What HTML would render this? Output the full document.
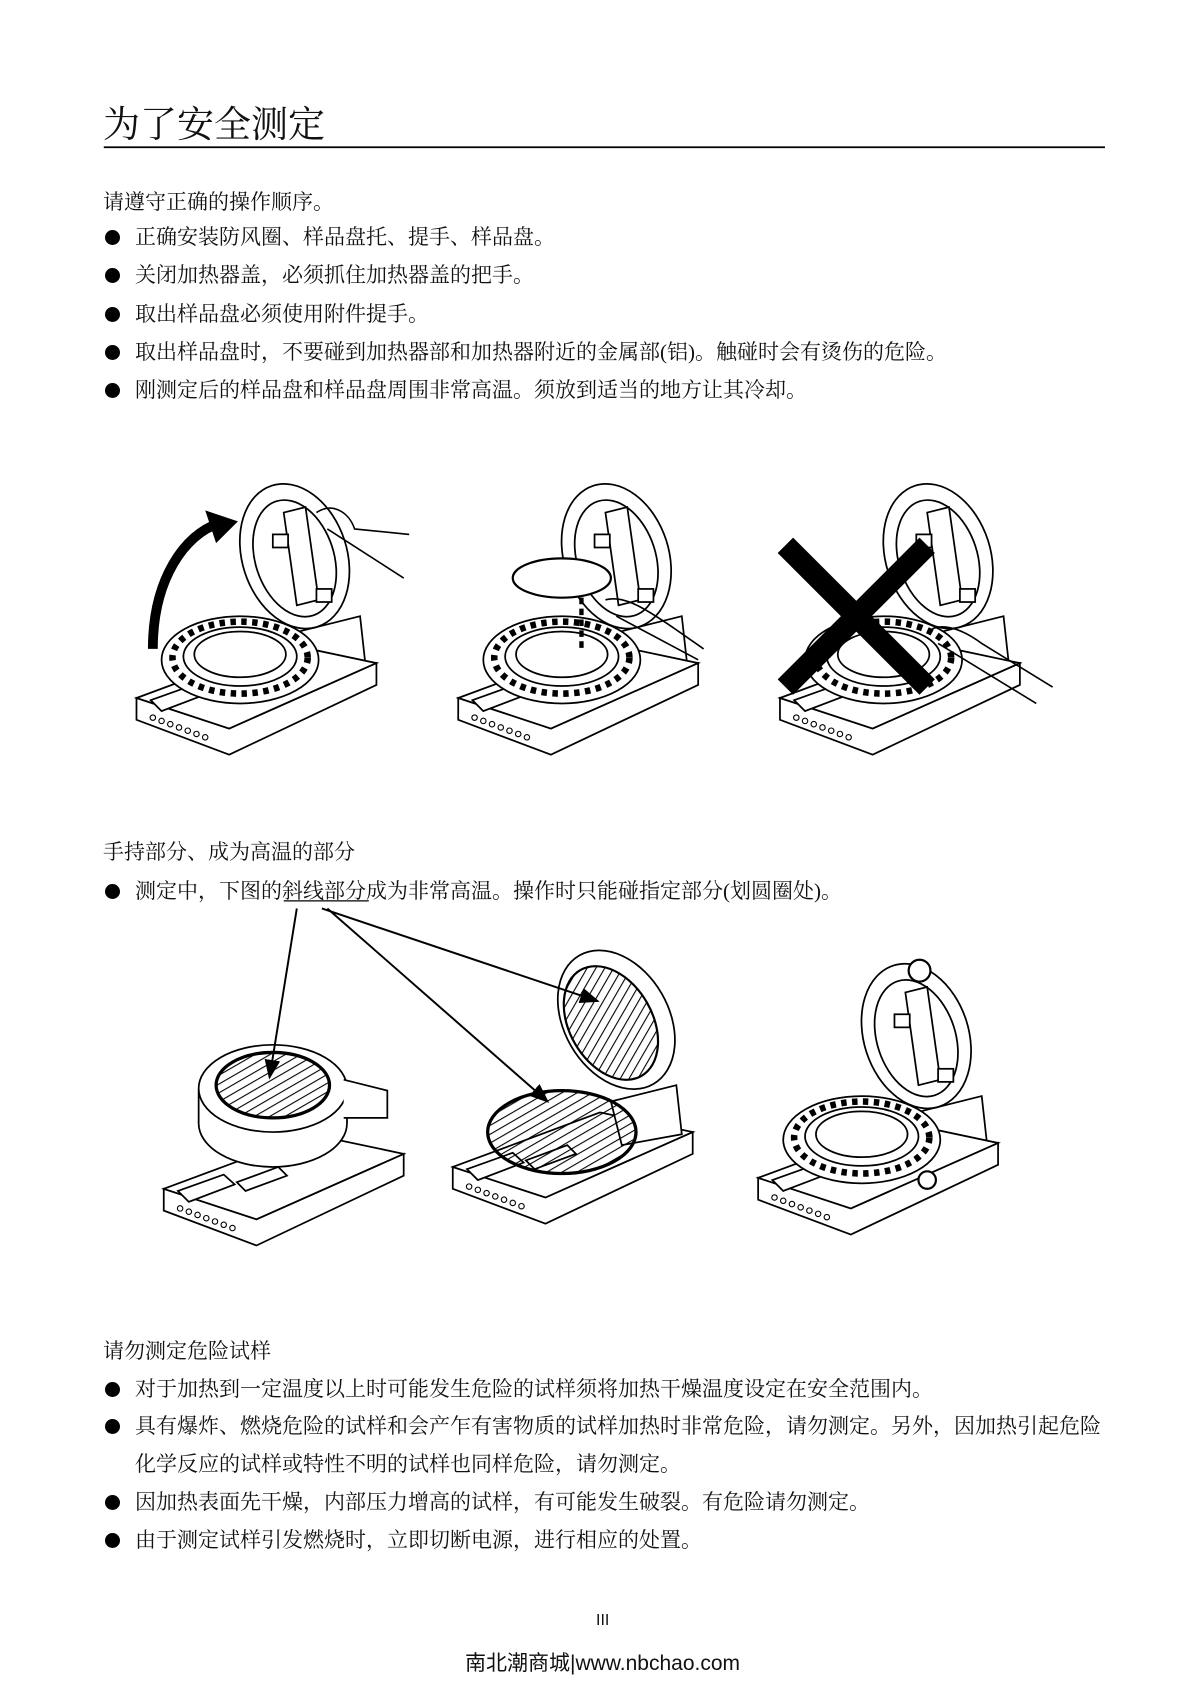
<!DOCTYPE html>
<html><head><meta charset="utf-8"><style>
body{margin:0;background:#fff}
#p{position:relative;width:1200px;height:1697px;overflow:hidden;background:#fff;font-family:"Liberation Serif","Noto Serif CJK SC","Noto Sans CJK SC",serif;color:#111}
.t{position:absolute;white-space:nowrap;font-size:21px;line-height:24px}
.b{position:absolute;width:15px;height:15px;border-radius:50%;background:#000}
svg{position:absolute;left:0;top:0}
</style></head><body><div id="p">
<svg width="1200" height="1697" viewBox="0 0 1100 1556">
<defs>
<pattern id="h" width="7" height="7" patternUnits="userSpaceOnUse" patternTransform="rotate(60)"><line x1="0" y1="0" x2="0" y2="7" stroke="#000" stroke-width="2"/></pattern>
<marker id="ar" markerWidth="10" markerHeight="10" refX="9" refY="5" orient="auto"><path d="M0,1 L10,5 L0,9 z" fill="#000"/></marker>
<g id="base" fill="#fff" stroke="#000" stroke-width="1.6">
<path d="M5,210 L5,230 L90,262 L225,198 L225,178 L90,238 Z"/>
<path d="M5,210 L140,160 L225,178 L90,238 Z"/>
<path d="M18,212 L60,197 L70,206 L28,222 Z"/>
<path d="M72,204 L110,190 L118,198 L80,212 Z"/>
<g stroke-width="1"><circle cx="20" cy="228" r="2.5"/><circle cx="28" cy="231" r="2.5"/><circle cx="36" cy="234" r="2.5"/><circle cx="44" cy="237" r="2.5"/><circle cx="52" cy="240" r="2.5"/><circle cx="60" cy="243" r="2.5"/><circle cx="68" cy="246" r="2.5"/></g>
</g>
<g id="ring" fill="#fff" stroke="#000" stroke-width="1.6">
<ellipse cx="100" cy="175" rx="72" ry="40"/>
<ellipse cx="100" cy="173" rx="62" ry="33" stroke-width="6" stroke-dasharray="5 5" fill="none"/>
<ellipse cx="100" cy="172" rx="52" ry="27"/>
<ellipse cx="100" cy="170" rx="42" ry="21"/>
</g>
<g id="lid" fill="#fff" stroke="#000" stroke-width="1.6">
<path d="M150,150 L210,135 L215,180 L160,190 Z"/>
<ellipse cx="150" cy="80" rx="48" ry="68" transform="rotate(-18 150 80)"/>
<ellipse cx="150" cy="82" rx="36" ry="55" transform="rotate(-18 150 82)"/>
<path d="M140,40 L160,35 L172,120 L152,125 Z"/>
<rect x="130" y="60" width="14" height="12"/><rect x="170" y="110" width="14" height="12"/>
</g>
</defs>
<line x1="95" y1="135" x2="1013" y2="135" stroke="#000" stroke-width="1.6"/>
<g transform="translate(120,430)"><use href="#lid"/><use href="#base"/><use href="#ring"/>
<path d="M170,40 C185,30 200,40 205,55 L255,60 M180,55 L250,100" fill="none" stroke="#000" stroke-width="1.5"/>
<path d="M20,165 C20,100 50,60 80,50" fill="none" stroke="#000" stroke-width="9"/><path d="M68,38 L98,48 L78,68 Z" fill="#000"/></g>
<g transform="translate(415,430)"><use href="#lid"/><use href="#base"/><use href="#ring"/>
<ellipse cx="100" cy="100" rx="45" ry="18" fill="#fff" stroke="#000" stroke-width="2"/>
<path d="M118,118 L118,165" stroke="#000" stroke-width="4" stroke-dasharray="6 4"/>
<path d="M140,120 C160,115 180,130 230,165 M150,135 L225,175" fill="none" stroke="#000" stroke-width="1.5"/></g>
<g transform="translate(710,430)"><use href="#lid"/><use href="#base"/><use href="#ring"/>
<path d="M140,150 C150,140 170,145 190,160 L255,200 M150,160 L240,215" fill="none" stroke="#000" stroke-width="1.5"/>
<path d="M10,70 L140,200 M140,70 L10,200" stroke="#000" stroke-width="20"/></g>
<g transform="translate(145,880)"><use href="#base"/>
<ellipse cx="105" cy="150" rx="68" ry="40" fill="#fff" stroke="#000" stroke-width="1.6"/>
<path d="M37,150 L37,120 L173,120 L173,150" fill="#fff" stroke="#000" stroke-width="1.6"/>
<ellipse cx="105" cy="118" rx="68" ry="40" fill="#fff" stroke="#000" stroke-width="1.6"/>
<ellipse cx="105" cy="115" rx="52" ry="30" fill="url(#h)" stroke="#000" stroke-width="3"/>
<path d="M170,110 L210,120 L210,145 L170,145" fill="#fff" stroke="#000" stroke-width="1.6"/></g>
<g transform="translate(410,860)"><use href="#base"/>
<path d="M150,150 L210,135 L215,180 L160,190 Z" fill="#fff" stroke="#000" stroke-width="1.6"/>
<ellipse cx="155" cy="75" rx="48" ry="68" transform="rotate(-30 155 75)" fill="#fff" stroke="#000" stroke-width="1.6"/>
<ellipse cx="150" cy="78" rx="38" ry="56" transform="rotate(-30 150 78)" fill="url(#h)" stroke="#000" stroke-width="2"/>
<ellipse cx="105" cy="178" rx="68" ry="38" fill="url(#h)" stroke="#000" stroke-width="3"/></g>
<g transform="translate(690,870)"><use href="#lid"/><use href="#base"/><use href="#ring"/>
<circle cx="153" cy="20" r="10" fill="#fff" stroke="#000" stroke-width="2"/>
<circle cx="160" cy="212" r="8" fill="#fff" stroke="#000" stroke-width="2"/></g>
<g stroke="#000" stroke-width="1.8" fill="none">
<line x1="272" y1="833" x2="247" y2="988" marker-end="url(#ar)"/>
<line x1="295" y1="833" x2="548" y2="918" marker-end="url(#ar)"/>
<line x1="300" y1="833" x2="502" y2="1010" marker-end="url(#ar)"/>
<line x1="260" y1="826" x2="338" y2="826" stroke-width="1.2"/>
</g>
</svg>
<div class="t" style="left:103px;top:104px;font-size:37px;line-height:44px">为了安全测定</div>
<div class="t" style="left:103px;top:190px">请遵守正确的操作顺序。</div>
<div class="b" style="left:105px;top:230px"></div><div class="t" style="left:135px;top:225px">正确安装防风圈、样品盘托、提手、样品盘。</div>
<div class="b" style="left:105px;top:268px"></div><div class="t" style="left:135px;top:263px">关闭加热器盖，必须抓住加热器盖的把手。</div>
<div class="b" style="left:105px;top:307px"></div><div class="t" style="left:135px;top:302px">取出样品盘必须使用附件提手。</div>
<div class="b" style="left:105px;top:345px"></div><div class="t" style="left:135px;top:340px">取出样品盘时，不要碰到加热器部和加热器附近的金属部(铝)。触碰时会有烫伤的危险。</div>
<div class="b" style="left:105px;top:383px"></div><div class="t" style="left:135px;top:378px">刚测定后的样品盘和样品盘周围非常高温。须放到适当的地方让其冷却。</div>
<div class="t" style="left:103px;top:840px">手持部分、成为高温的部分</div>
<div class="b" style="left:105px;top:884px"></div><div class="t" style="left:135px;top:879px">测定中，下图的斜线部分成为非常高温。操作时只能碰指定部分(划圆圈处)。</div>
<div class="t" style="left:103px;top:1339px">请勿测定危险试样</div>
<div class="b" style="left:105px;top:1382px"></div><div class="t" style="left:135px;top:1377px">对于加热到一定温度以上时可能发生危险的试样须将加热干燥温度设定在安全范围内。</div>
<div class="b" style="left:105px;top:1419px"></div><div class="t" style="left:135px;top:1414px">具有爆炸、燃烧危险的试样和会产乍有害物质的试样加热时非常危险，请勿测定。另外，因加热引起危险</div>
<div class="t" style="left:135px;top:1452px">化学反应的试样或特性不明的试样也同样危险，请勿测定。</div>
<div class="b" style="left:105px;top:1495px"></div><div class="t" style="left:135px;top:1490px">因加热表面先干燥，内部压力增高的试样，有可能发生破裂。有危险请勿测定。</div>
<div class="b" style="left:105px;top:1533px"></div><div class="t" style="left:135px;top:1528px">由于测定试样引发燃烧时，立即切断电源，进行相应的处置。</div>
<div class="t" style="left:596px;top:1609px;font-family:'Liberation Sans',sans-serif;font-size:16px">III</div>
<div class="t" style="left:465px;top:1651px;font-family:'Liberation Sans','Noto Sans CJK SC',sans-serif;font-size:21px;line-height:26px">南北潮商城|www.nbchao.com</div>
</div></body></html>
